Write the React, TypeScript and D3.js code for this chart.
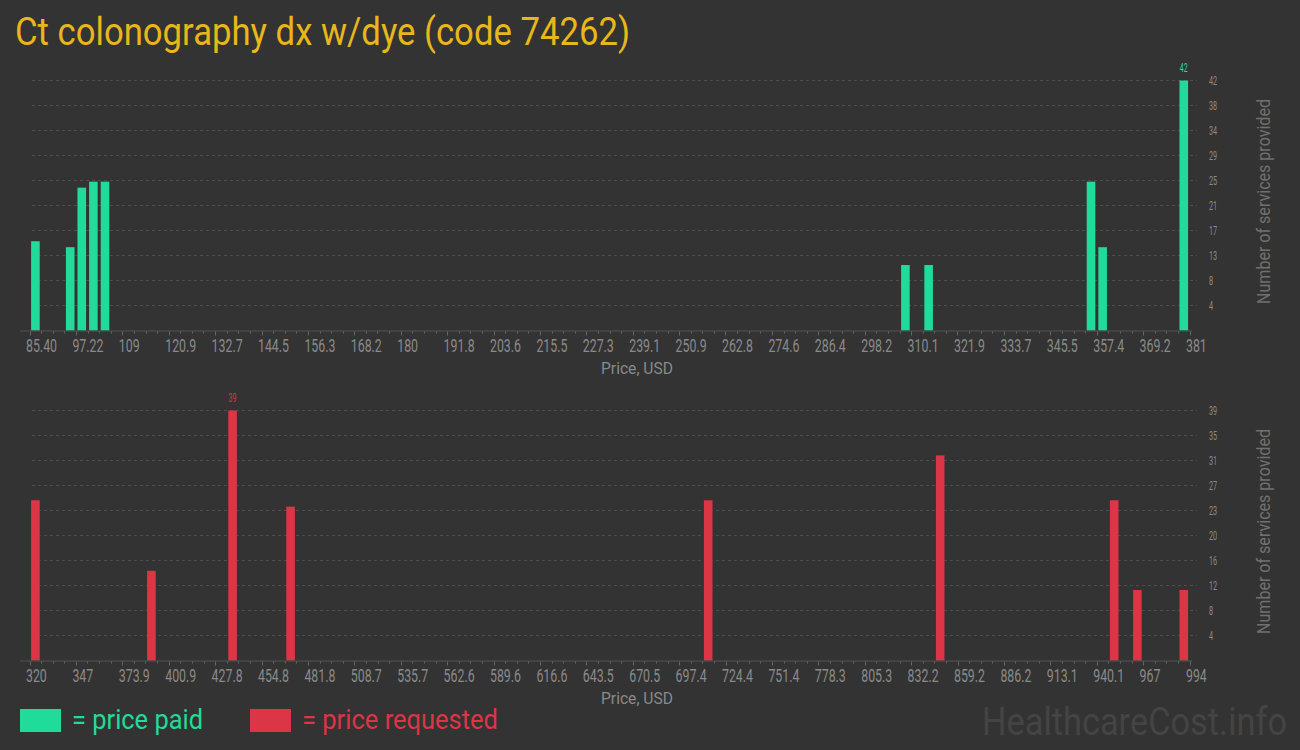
import React, { useEffect, useRef } from "react";
import * as d3 from "d3";

/* DATA */

/* price paid: bin start price (USD) and number of services */
const paidPrices = [85.4, 94.27, 97.22, 100.18, 103.14, 307.1, 313.02, 354.4, 357.36, 378.04];
const paidCounts = [15, 14, 24, 25, 25, 11, 11, 25, 14, 42];
const paidXTicks = [
  "85.40", "97.22", "109", "120.9", "132.7", "144.5", "156.3", "168.2", "180",
  "191.8", "203.6", "215.5", "227.3", "239.1", "250.9", "262.8", "274.6", "286.4",
  "298.2", "310.1", "321.9", "333.7", "345.5", "357.4", "369.2", "381",
];
const paidYTicks = ["4", "8", "13", "17", "21", "25", "29", "34", "38", "42"];

/* price requested */
const requestedPrices = [320, 387.4, 434.58, 468.28, 710.92, 845.72, 946.82, 960.3, 987.26];
const requestedCounts = [25, 14, 39, 24, 25, 32, 25, 11, 11];
const requestedXTicks = [
  "320", "347", "373.9", "400.9", "427.8", "454.8", "481.8", "508.7", "535.7",
  "562.6", "589.6", "616.6", "643.5", "670.5", "697.4", "724.4", "751.4", "778.3",
  "805.3", "832.2", "859.2", "886.2", "913.1", "940.1", "967", "994",
];
const requestedYTicks = ["4", "8", "12", "16", "20", "23", "27", "31", "35", "39"];

const App = () => {
  const ref = useRef<SVGSVGElement>(null);

  useEffect(() => {
    document.body.style.margin = "0";

    /* SVG Size & Style */
    const width = 1300;
    const height = 750;
    const bgColor = "#333333";
    const green = "#21db9a";
    const red = "#dc3545";
    const gold = "#e8b71a";
    const grey = "#8a8a8a";
    const font = "Roboto, sans-serif";

    const svg = d3.select(ref.current);
    svg.selectAll("*").remove();
    svg.attr("width", width).attr("height", height);

    svg.append("rect").attr("width", width).attr("height", height).attr("fill", bgColor);

    /* Title */
    svg
      .append("text")
      .attr("x", 15)
      .attr("y", 45)
      .attr("fill", gold)
      .attr("font-family", font)
      .attr("font-size", 38)
      .attr("textLength", 615)
      .attr("lengthAdjust", "spacingAndGlyphs")
      .text("Ct colonography dx w/dye (code 74262)");

    /* draws one histogram panel */
    const drawPanel = (
      prices: number[],
      counts: number[],
      xTicks: string[],
      yTicks: string[],
      color: string,
      top: number,
      bottom: number
    ) => {
      const xMin = +xTicks[0];
      const xMax = +xTicks[xTicks.length - 1];
      const yMax = +yTicks[yTicks.length - 1];
      const bin = (xMax - xMin) / 100;

      const x = d3.scaleLinear().domain([xMin, xMax]).range([29.5, 1189.5]);
      const y = d3.scaleLinear().domain([0, yMax]).range([bottom, top]);

      const g = svg.append("g");

      /* gridlines + y tick labels */
      yTicks.forEach((t, i) => {
        const yy = y((yMax * (i + 1)) / yTicks.length);
        g.append("line")
          .attr("x1", 32)
          .attr("x2", 1197)
          .attr("y1", yy)
          .attr("y2", yy)
          .attr("stroke", "#4d4d4d")
          .attr("stroke-dasharray", "3,3");
        g.append("text")
          .attr("transform", `translate(1209,${yy + 4.5}) scale(0.58,1)`)
          .attr("fill", grey)
          .attr("font-family", font)
          .attr("font-size", 12.5)
          .text(t);
      });

      /* bars */
      g.selectAll(".bar")
        .data(prices)
        .join("rect")
        .attr("x", (d) => x(d) + 1.6)
        .attr("width", (d) => x(d + bin) - x(d) - 3)
        .attr("y", (d, i) => y(counts[i]))
        .attr("height", (d, i) => bottom - y(counts[i]))
        .attr("fill", color);

      /* value label on tallest bar */
      const mi = d3.maxIndex(counts);
      g.append("text")
        .attr(
          "transform",
          `translate(${x(prices[mi] + bin / 2)},${y(counts[mi]) - 9}) scale(0.58,1)`
        )
        .attr("text-anchor", "middle")
        .attr("fill", color)
        .attr("font-family", font)
        .attr("font-size", 12)
        .text(counts[mi]);

      /* x axis */
      g.append("line")
        .attr("x1", 20)
        .attr("x2", 1192)
        .attr("y1", bottom + 0.5)
        .attr("y2", bottom + 0.5)
        .attr("stroke", "#555");

      for (let i = 0; i <= 100; i++) {
        const xx = Math.round(x(xMin + i * bin)) + 0.5;
        g.append("line")
          .attr("x1", xx)
          .attr("x2", xx)
          .attr("y1", bottom + 1)
          .attr("y2", bottom + (i % 4 === 0 ? 5 : 3))
          .attr("stroke", "#666");
      }

      xTicks.forEach((t, i) => {
        const xx = x(xMin + i * bin * 4);
        g.append("text")
          .attr("transform", `translate(${xx - 3.5},${bottom + 21}) scale(0.65,1)`)
          .attr("fill", grey)
          .attr("font-family", font)
          .attr("font-size", 19)
          .text(t);
      });

      /* axis titles */
      g.append("text")
        .attr("x", 637)
        .attr("y", bottom + 43)
        .attr("text-anchor", "middle")
        .attr("fill", grey)
        .attr("font-family", font)
        .attr("font-size", 17)
        .attr("textLength", 72)
        .attr("lengthAdjust", "spacingAndGlyphs")
        .text("Price, USD");

      g.append("text")
        .attr("transform", `translate(1270,${(top + bottom) / 2 - 4}) rotate(-90)`)
        .attr("text-anchor", "middle")
        .attr("fill", "#707070")
        .attr("font-family", font)
        .attr("font-size", 19)
        .attr("textLength", 205)
        .attr("lengthAdjust", "spacingAndGlyphs")
        .text("Number of services provided");
    };

    drawPanel(paidPrices, paidCounts, paidXTicks, paidYTicks, green, 80.5, 330.5);
    drawPanel(requestedPrices, requestedCounts, requestedXTicks, requestedYTicks, red, 410.5, 660.5);

    /* Legend */
    const legend = [
      { label: "= price paid", color: green, x: 20, w: 131 },
      { label: "= price requested", color: red, x: 250, w: 196 },
    ];
    legend.forEach((l) => {
      svg.append("rect").attr("x", l.x).attr("y", 709).attr("width", 41).attr("height", 23).attr("fill", l.color);
      svg
        .append("text")
        .attr("x", l.x + 52)
        .attr("y", 729)
        .attr("fill", l.color)
        .attr("font-family", font)
        .attr("font-size", 27)
        .attr("textLength", l.w)
        .attr("lengthAdjust", "spacingAndGlyphs")
        .text(l.label);
    });

    /* Watermark */
    svg
      .append("text")
      .attr("x", 982)
      .attr("y", 735)
      .attr("fill", "#444444")
      .attr("font-family", font)
      .attr("font-size", 38)
      .attr("textLength", 305)
      .attr("lengthAdjust", "spacingAndGlyphs")
      .text("HealthcareCost.info");
  }, []);

  return <svg ref={ref} style={{ display: "block" }} />;
};

export default App;
